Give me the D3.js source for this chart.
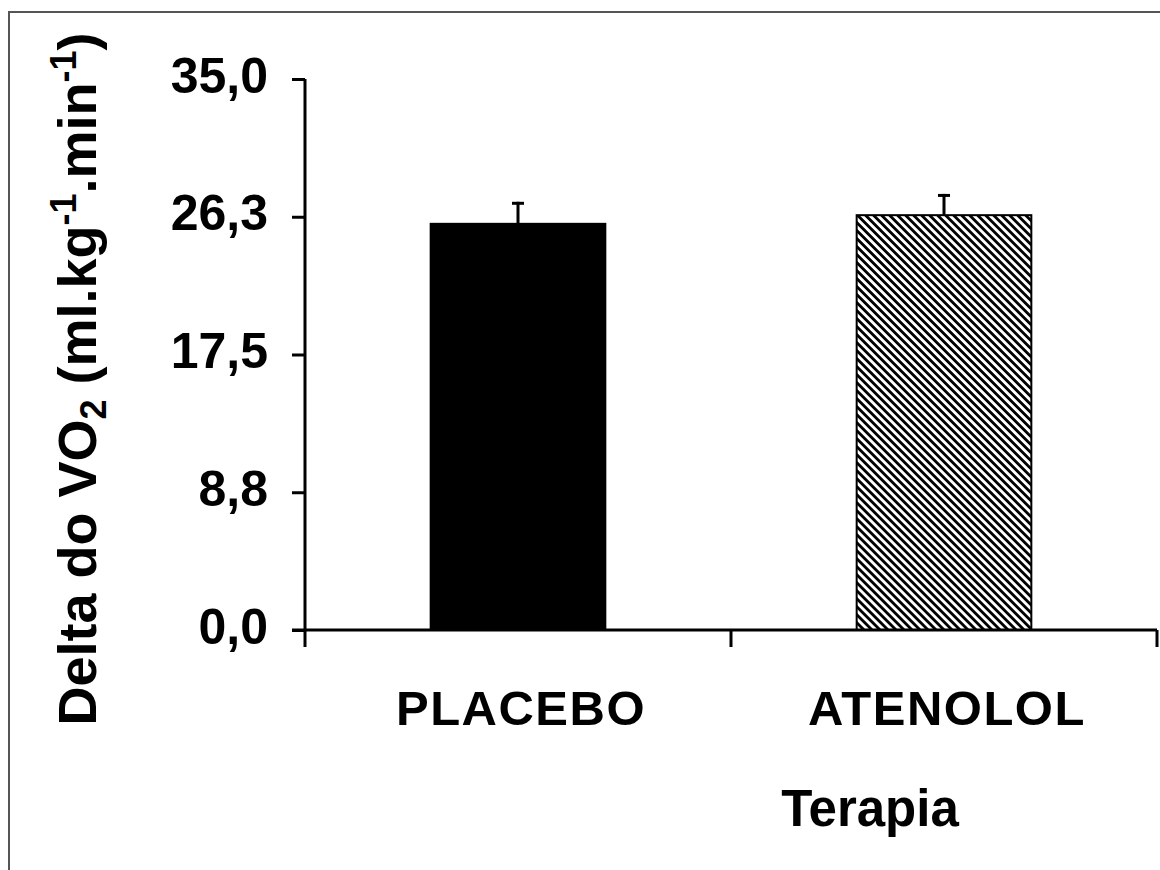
<!DOCTYPE html>
<html>
<head>
<meta charset="utf-8">
<script src="https://cdn.jsdelivr.net/npm/d3@7"></script>
<style>
  html, body { margin: 0; padding: 0; background: #fff; }
  svg { display: block; }
  text { font-family: "Liberation Sans", Arial, sans-serif; font-weight: bold; fill: #000; }
</style>
</head>
<body>
<svg id="chart" width="1160" height="870"></svg>
<script>
const categories = ["PLACEBO", "ATENOLOL"];
const values = [25.8, 26.35];
const errors = [1.4, 1.35];
const tickValues = [0, 8.75, 17.5, 26.25, 35];
const tickLabels = ["0,0", "8,8", "17,5", "26,3", "35,0"];
const xTitle = "Terapia";

const svg = d3.select("#chart");

// outer frame
svg.append("rect")
  .attr("x", 9).attr("y", 12).attr("width", 1160).attr("height", 870)
  .attr("fill", "none").attr("stroke", "#555").attr("stroke-width", 2);

// hatch pattern
const defs = svg.append("defs");
const pat = defs.append("pattern")
  .attr("id", "hatch").attr("patternUnits", "userSpaceOnUse")
  .attr("width", 5.66).attr("height", 5.66)
  .attr("patternTransform", "rotate(-45)");
pat.append("rect").attr("width", 5.66).attr("height", 5.66).attr("fill", "#fff");
pat.append("rect").attr("x", 0).attr("y", 0).attr("width", 2.8).attr("height", 5.66).attr("fill", "#000");

const x = d3.scaleBand().domain(categories).range([305, 1157]).padding(0);
const y = d3.scaleLinear().domain([0, 35]).range([630, 79]);
const barW = x.bandwidth() * 0.41;

// bars
const fills = ["#000", "url(#hatch)"];
svg.selectAll("rect.bar").data(categories).enter().append("rect")
  .attr("class", "bar")
  .attr("x", d => x(d) + x.bandwidth() / 2 - barW / 2)
  .attr("y", (d, i) => y(values[i]))
  .attr("width", barW)
  .attr("height", (d, i) => y(0) - y(values[i]))
  .attr("fill", (d, i) => fills[i])
  .attr("stroke", "#000").attr("stroke-width", 2);

// error bars
categories.forEach((c, i) => {
  const cx = x(c) + x.bandwidth() / 2;
  svg.append("line")
    .attr("x1", cx).attr("x2", cx)
    .attr("y1", y(values[i])).attr("y2", y(values[i] + errors[i]))
    .attr("stroke", "#000").attr("stroke-width", 3);
  svg.append("line")
    .attr("x1", cx - 6).attr("x2", cx + 6)
    .attr("y1", y(values[i] + errors[i]) + 1.5).attr("y2", y(values[i] + errors[i]) + 1.5)
    .attr("stroke", "#000").attr("stroke-width", 3);
});

// y axis
const yAxis = d3.axisLeft(y).tickValues(tickValues)
  .tickFormat((d, i) => tickLabels[i]).tickSize(13).tickPadding(24);
const gy = svg.append("g").attr("transform", "translate(305,0)").call(yAxis);
gy.select(".domain").attr("stroke", "#000").attr("stroke-width", 3)
  .attr("d", `M0,${y(35)}V${y(0)}`);
gy.selectAll(".tick line").attr("stroke", "#000").attr("stroke-width", 3);
gy.selectAll(".tick text").attr("font-size", 50).attr("font-weight", "bold")
  .attr("font-family", "'Liberation Sans', Arial, sans-serif").attr("fill", "#000")
  .attr("dy", "0.26em");

// x axis
const gx = svg.append("g").attr("transform", "translate(0,630)");
gx.append("line").attr("x1", 292).attr("x2", 1157).attr("y1", 0).attr("y2", 0)
  .attr("stroke", "#000").attr("stroke-width", 3);
const bounds = [x(categories[0]), x(categories[1]), x(categories[1]) + x.bandwidth()];
gx.selectAll("line.xt").data(bounds).enter().append("line")
  .attr("class", "xt")
  .attr("x1", d => d).attr("x2", d => d).attr("y1", 0).attr("y2", 17)
  .attr("stroke", "#000").attr("stroke-width", 3);
gx.selectAll("text.cat").data(categories).enter().append("text")
  .attr("class", "cat")
  .attr("x", d => x(d) + x.bandwidth() / 2 + 3)
  .attr("y", 95)
  .attr("text-anchor", "middle")
  .attr("font-size", 49)
  .attr("letter-spacing", 1.5)
  .text(d => d);

// x title
svg.append("text")
  .attr("x", 870).attr("y", 826)
  .attr("text-anchor", "middle")
  .attr("font-size", 51)
  .text(xTitle);

// y title
const yt = svg.append("text")
  .attr("transform", "translate(96,379) rotate(-90)")
  .attr("text-anchor", "middle")
  .attr("font-size", 54);
yt.append("tspan").text("Delta do VO");
yt.append("tspan").attr("font-size", 36).attr("dy", 10).text("2");
yt.append("tspan").attr("dy", -10).text(" (ml.kg");
yt.append("tspan").attr("font-size", 36).attr("dy", -20).text("-1");
yt.append("tspan").attr("dy", 20).text(".min");
yt.append("tspan").attr("font-size", 36).attr("dy", -20).text("-1");
yt.append("tspan").attr("dy", 20).text(")");
</script>
</body>
</html>
